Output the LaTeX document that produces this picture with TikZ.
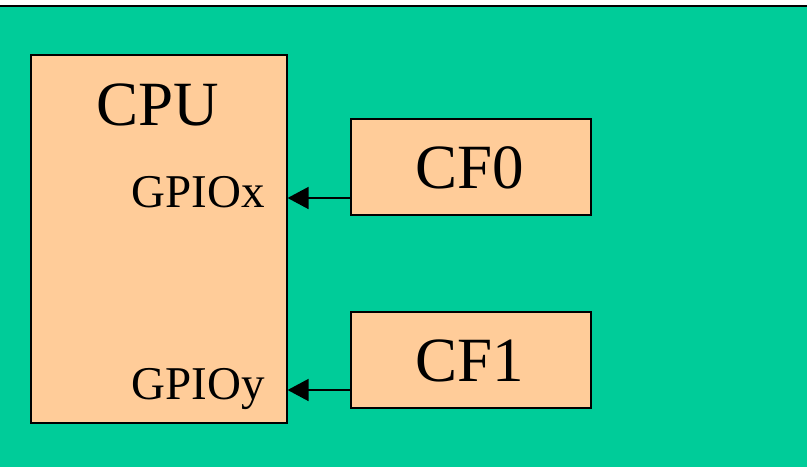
\documentclass[tikz,border=0pt]{standalone}
\usepackage{fontspec}
\setmainfont{Liberation Serif}
\usetikzlibrary{arrows.meta}
\definecolor{slidegreen}{RGB}{0,204,153}
\definecolor{peach}{RGB}{255,204,153}
\tikzset{
  block/.style={draw=black, line width=1.6pt, fill=peach, inner sep=0pt, anchor=north west},
  bigtext/.style={font=\fontsize{63}{70}\selectfont, inner sep=0pt},
  smalltext/.style={font=\fontsize{47}{52}\selectfont, inner sep=0pt},
  link/.style={line width=1.8pt, -{Triangle[length=21pt, width=22pt]}}
}
\begin{document}
\begin{tikzpicture}[x=1pt, y=-1pt]
  \useasboundingbox (0,0) rectangle (807,467);
  % slide background with rule along its top
  \fill[white] (0,0) rectangle (807,6);
  \fill[slidegreen] (0,6) rectangle (807,467);
  \draw[line width=2pt] (0,5.5) -- (807,5.5);

  % blocks
  \node[block, minimum width=256pt, minimum height=368pt] (cpu) at (30,54) {};
  \node[block, minimum width=240pt, minimum height=96pt] (cf0) at (350,118) {};
  \node[block, minimum width=240pt, minimum height=96pt] (cf1) at (350,311) {};

  % labels
  \node[bigtext, anchor=base] (cputxt) at (158,125) {CPU};
  \node[smalltext, anchor=base east] (gpiox) at (265,207) {GPIOx};
  \node[smalltext, anchor=base east] (gpioy) at (265,399) {GPIOy};
  \node[bigtext, anchor=base] (cf0txt) at (470,188) {CF0};
  \node[bigtext, anchor=base] (cf1txt) at (470,381) {CF1};

  % connections into the GPIO pins
  \coordinate (px) at (cpu.east |- 0,198);
  \coordinate (py) at (cpu.east |- 0,390);
  \draw[link] (cf0.west |- px) -- (px);
  \draw[link] (cf1.west |- py) -- (py);
\end{tikzpicture}
\end{document}
